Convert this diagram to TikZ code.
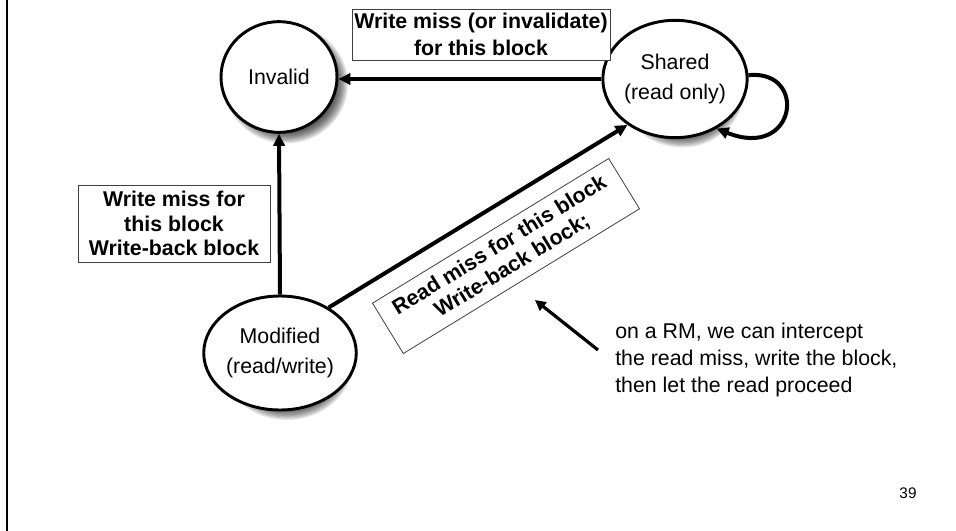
\documentclass[tikz,border=0pt]{standalone}
\usepackage{fontspec}
\setmainfont{Liberation Sans}
\usetikzlibrary{arrows.meta,shapes.geometric,calc}
\begin{document}
\begin{tikzpicture}[x=0.75pt,y=0.75pt,
  state/.style={ellipse,draw=black,line width=2.2pt,fill=white,inner sep=0pt,
    align=center,font=\fontsize{16}{22.5}\selectfont},
  lbl/.style={draw=black!75,line width=0.6pt,fill=white,align=center,inner sep=0pt,
    font=\fontsize{16}{20}\selectfont\bfseries},
  arr/.style={line width=3pt,-{Triangle[length=9pt,width=8.5pt]}},
  notearr/.style={line width=2.4pt,-{Triangle[length=8pt,width=8pt]}},
  softshadow/.style={black,opacity=0.1},
]
% page area (origin at the top-left corner, y grows upwards)
\useasboundingbox (0,-531) rectangle (956,0);

% left margin rule
\draw[line width=1.6pt] (7,0) -- (7,-531);

% blurred drop shadows behind the three states
\foreach \cx/\cy/\w/\h in {279/77/116/111, 675/78/120/117, 280/352/126/114} {
  \foreach \k in {0,...,8} {
    \fill[softshadow] (\cx+7,-\cy-7) ellipse [x radius={\w/2+4-1.3*\k}, y radius={\h/2+4-1.3*\k}];
  }
}

% states
\node[state,minimum width=87pt,minimum height=83pt] (inv) at (279,-77) {Invalid};
\node[state,minimum width=90pt,minimum height=88pt] (shr) at (675,-79) {Shared\\(read only)};
\node[state,minimum width=94.5pt,minimum height=85.5pt] (mod) at (280,-353) {Modified\\(read/write)};

% transition labels
\node[lbl,minimum width=193.5pt,minimum height=38.25pt] (lwm) at (481,-34.5)
  {Write miss (or invalidate)\\for this block};
\node[lbl,minimum width=144pt,minimum height=57.75pt,font=\fontsize{16}{18.5}\selectfont\bfseries] (lwb) at (174,-223.5)
  {Write miss for\\this block\\Write-back block};
\node[lbl,minimum width=207.75pt,minimum height=44.25pt,rotate=31.5,font=\fontsize{16}{18}\selectfont\bfseries] (lrm) at (506,-256)
  {Read miss for this block\\Write-back block;};

% transitions
\draw[arr] (shr.west) -- (shr.west -| inv.east);
\draw[arr] (mod.north) -- (inv.south);
\draw[arr] (mod.43) -- (shr.224);
\draw[arr] (shr.3) .. controls ($(shr.3)+(60,6)$) and ($(shr.-50)+(80,-32)$) .. (shr.-50);

% side note with its pointer
\node[anchor=west,align=left,inner sep=0pt,font=\fontsize{16}{20.25}\selectfont] (note) at (615,-360)
  {on a RM, we can intercept\\the read miss, write the block,\\then let the read proceed};
\coordinate (ntail) at (598,-350);
\coordinate (ntip) at (535,-300);
\draw[notearr] (ntail) -- (ntip);

% slide number
\node[font=\fontsize{11.5}{14}\selectfont] (pg) at (908,-493) {39};
\end{tikzpicture}
\end{document}
